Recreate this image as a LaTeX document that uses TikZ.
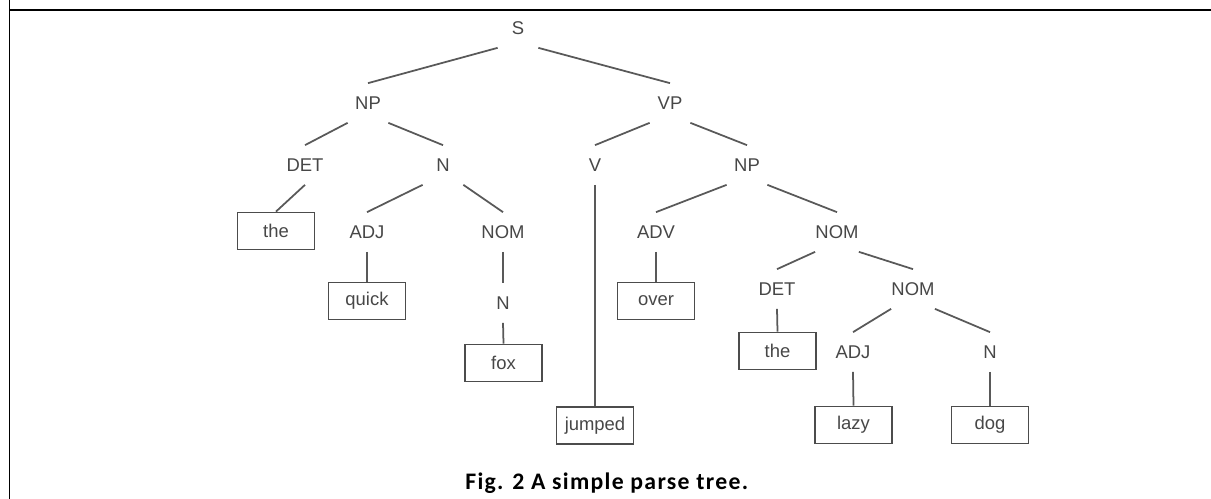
\documentclass[tikz,border=0pt]{standalone}
\usepackage{fontspec}
\setmainfont{Liberation Sans}
\newfontfamily\capfont[LetterSpace=5.5]{Carlito}
\begin{document}
\begin{tikzpicture}[x=0.02cm, y=-0.02cm,
        every node/.style={font=\fontsize{10.5}{12}\selectfont, text=black!72},
        cat/.style={inner sep=0, minimum width=0.8cm, minimum height=0.78cm},
        word/.style={draw=black!70, line width=1.05pt, inner sep=0, minimum width=1.54cm, minimum height=0.74cm},
        branch/.style={draw=black!65, line width=1pt}]
        \useasboundingbox (0,0) rectangle (1211,499);
        \draw[line width=0.5pt] (9,0) -- (9,499);
        \draw[line width=1.2pt] (9,10) -- (1211,10);

        % categories
        \node[cat] (s) at (518,28) {S};
        \node[cat] (np) at (368,103) {NP};
        \node[cat] (vp) at (670,103) {VP};
        \node[cat] (det) at (305,165) {DET};
        \node[cat] (n) at (443,165) {N};
        \node[cat] (v) at (595,165) {V};
        \node[cat] (np2) at (747,165) {NP};
        \node[cat] (adj) at (367,232) {ADJ};
        \node[cat] (nom) at (503,232) {NOM};
        \node[cat] (adv) at (656,232) {ADV};
        \node[cat] (nom2) at (837,232) {NOM};
        \node[cat] (n3) at (503,303) {N};
        \node[cat] (det2) at (777,289) {DET};
        \node[cat] (nom3) at (913,289) {NOM};
        \node[cat] (adj2) at (853,352) {ADJ};
        \node[cat] (n2) at (990,352) {N};

        % words
        \node[word] (the) at (276,231) {the};
        \node[word] (quick) at (367,301) {quick};
        \node[word] (fox) at (503.5,363) {fox};
        \node[word] (jumped) at (595,425.5) {jumped};
        \node[word] (over) at (656,301) {over};
        \node[word] (the2) at (777.5,351) {the};
        \node[word] (lazy) at (853.5,425) {lazy};
        \node[word] (dog) at (990,425) {dog};

        % branches
        \draw[branch] (s.south west) -- (np.north);
        \draw[branch] (s.south east) -- (vp.north);
        \draw[branch] (np.south west) -- (det.north);
        \draw[branch] (np.south east) -- (n.north);
        \draw[branch] (det.south) -- (the.north);
        \draw[branch] (n.south west) -- (adj.north);
        \draw[branch] (n.south east) -- (nom.north);
        \draw[branch] (adj.south) -- (quick.north);
        \draw[branch] (nom.south) -- (n3.north);
        \draw[branch] (n3.south) -- (fox.north);
        \draw[branch] (vp.south west) -- (v.north);
        \draw[branch] (vp.south east) -- (np2.north);
        \draw[branch] (v.south) -- (jumped.north);
        \draw[branch] (np2.south west) -- (adv.north);
        \draw[branch] (np2.south east) -- (nom2.north);
        \draw[branch] (adv.south) -- (over.north);
        \draw[branch] (nom2.south west) -- (det2.north);
        \draw[branch] (nom2.south east) -- (nom3.north);
        \draw[branch] (det2.south) -- (the2.north);
        \draw[branch] (nom3.south west) -- (adj2.north);
        \draw[branch] (nom3.south east) -- (n2.north);
        \draw[branch] (adj2.south) -- (lazy.north);
        \draw[branch] (n2.south) -- (dog.north);

        \node[anchor=base west, inner sep=0, text=black, font=\capfont\bfseries\fontsize{13.5}{15}\selectfont] (caption) at (465,490) {Fig. 2 A simple parse tree.};
    \end{tikzpicture}
\end{document}
